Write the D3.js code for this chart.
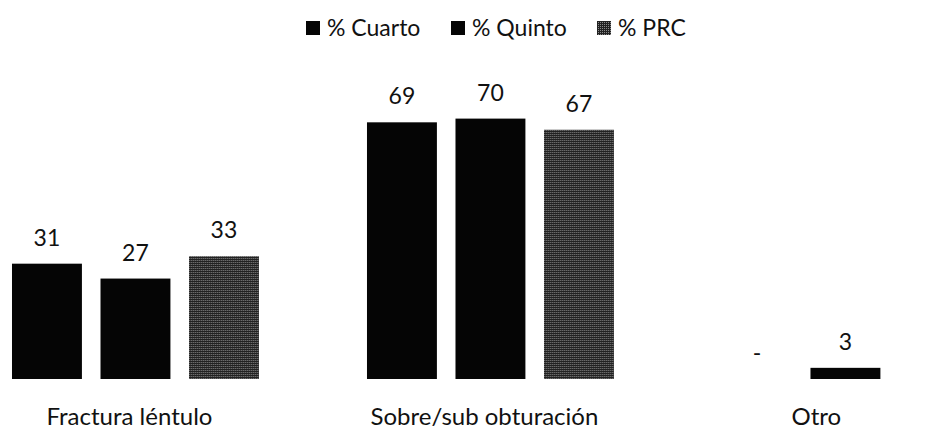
<!DOCTYPE html>
<html><head><meta charset="utf-8">
<script src="https://cdn.jsdelivr.net/npm/d3@7"></script>
<style>
html,body{margin:0;padding:0;background:#fff;}
svg{display:block;}
text{font-family:Lato,"Open Sans",sans-serif;fill:#111;}
</style></head>
<body>
<script>
const categories = ["Fractura léntulo", "Sobre/sub obturación", "Otro"];
const seriesNames = ["% Cuarto", "% Quinto", "% PRC"];
const cuarto = [31, 69, 0];
const quinto = [27, 70, 3];
const prc = [33, 67, null];
const valueLabels = [["31","69","-"],["27","70","3"],["33","67",""]];

const W = 932, H = 432;
const svg = d3.select("body").append("svg").attr("width", W).attr("height", H);

const defs = svg.append("defs");
const pat = defs.append("pattern").attr("id","prcPat").attr("patternUnits","userSpaceOnUse")
  .attr("width",2).attr("height",2);
pat.append("rect").attr("width",2).attr("height",2).attr("fill","#222");
pat.append("rect").attr("x",0).attr("y",0).attr("width",1).attr("height",1).attr("fill","#8a8a8a");
const fills = ["#050505", "#050505", "url(#prcPat)"];

const values = [cuarto, quinto, prc];
const rows = categories.map((c,i)=>({cat:c, vals: values.map((s,j)=>({s:j, v:s[i], lab:valueLabels[j][i]})).filter(d=>d.v!==null)}));

const x0 = d3.scaleBand().domain(categories).range([2.7, 978.2]).paddingInner(0.252).paddingOuter(0);
const x1 = d3.scaleBand().domain(d3.range(3)).range([0, x0.bandwidth()]).paddingInner(0.21).paddingOuter(0.105);
const y = d3.scaleLinear().domain([0, 100]).range([379, 7]);

const g = svg.selectAll("g.cat").data(rows).join("g").attr("class","cat")
  .attr("transform", d=>`translate(${x0(d.cat)},0)`);

g.selectAll("rect").data(d=>d.vals).join("rect")
  .attr("x", d=>x1(d.s)).attr("width", x1.bandwidth())
  .attr("y", d=>y(d.v)).attr("height", d=>y(0)-y(d.v))
  .attr("fill", d=>fills[d.s]);

g.selectAll("text.val").data(d=>d.vals).join("text").attr("class","val")
  .attr("x", d=>x1(d.s)+x1.bandwidth()/2).attr("y", d=>y(d.v)-18)
  .attr("text-anchor","middle").style("font-size","23px").text(d=>d.lab);

// category labels
svg.selectAll("text.cat").data(categories).join("text").attr("class","cat")
  .attr("x", c=>{ const a = x0(c), b = Math.min(x0(c)+x0.bandwidth(), W); return (a+b)/2 - 6; })
  .attr("y", 425).attr("text-anchor","middle").style("font-size","24px").text(c=>c);

// legend
const legendX = [306, 451, 597];
const lg = svg.append("g");
seriesNames.forEach((s,i)=>{
  lg.append("rect").attr("x", legendX[i]).attr("y", 21).attr("width", 14).attr("height", 14).attr("fill", fills[i]);
  lg.append("text").attr("x", legendX[i]+21).attr("y", 36).style("font-size","23px").text(s);
});
</script>
</body></html>
